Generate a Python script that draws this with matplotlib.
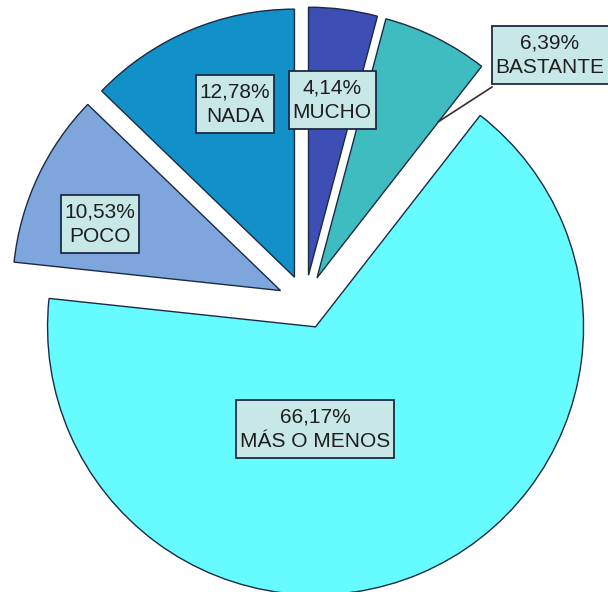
import matplotlib
matplotlib.use("Agg")
import matplotlib.pyplot as plt
from matplotlib.patches import Rectangle

categories = ["MUCHO", "BASTANTE", "MÁS O MENOS", "POCO", "NADA"]
values = [4.14, 6.39, 66.17, 10.53, 12.78]
colors = ["#3d4fb4", "#3fbcbf", "#66fcff", "#7fa6dc", "#1290c8"]

W, H = 608, 592
fig = plt.figure(figsize=(W / 100, H / 100), dpi=100)
ax = fig.add_axes([0, 0, 1, 1])

cx, cy, r = 305, H - 302, 268
ax.pie(values, colors=colors, startangle=90, counterclock=False,
       explode=[27] * len(values), center=(cx, cy), radius=r,
       wedgeprops=dict(edgecolor="#1b2a45", linewidth=1.0), frame=True)
ax.set_xlim(0, W)
ax.set_ylim(0, H)
ax.set_aspect("equal")
ax.axis("off")

# label box centers (pixel coords from top)
label_pos = [(332, 100), (550, 55), (315, 429), (100, 224), (235, 104)]

# leader line for BASTANTE
ax.plot([492, 438], [H - 87, H - 122], color="#3a2b30", lw=1.2, zorder=3)

texts = []
for cat, v, (px, py) in zip(categories, values, label_pos):
    txt = f"{v:.2f}%".replace(".", ",") + "\n" + cat
    t = ax.text(px, H - py, txt, ha="center", va="center", fontsize=15,
                family=["Liberation Sans", "DejaVu Sans"], color="#1e1e1e",
                linespacing=1.38, zorder=6)
    texts.append(t)

fig.canvas.draw()
renderer = fig.canvas.get_renderer()
inv = ax.transData.inverted()
padx, pady = 4, 7
for t in texts:
    bb = t.get_window_extent(renderer)
    (x0, y0), (x1, y1) = inv.transform([[bb.x0, bb.y0], [bb.x1, bb.y1]])
    ax.add_patch(Rectangle((x0 - padx, y0 - pady), (x1 - x0) + 2 * padx,
                           (y1 - y0) + 2 * pady, facecolor="#c8e8e8",
                           edgecolor="#1b2a45", linewidth=1.3, zorder=5,
                           clip_on=False))

fig.savefig("out.png", dpi=100)
